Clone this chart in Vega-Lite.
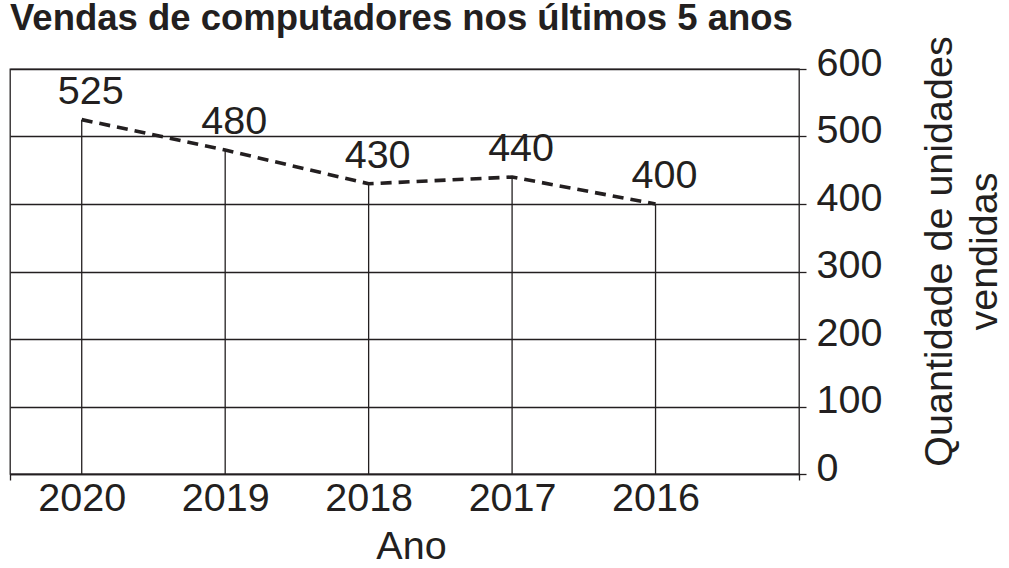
{
  "$schema": "https://vega.github.io/schema/vega-lite/v6.json",
  "autosize": {"type": "none"},
  "width": 789,
  "height": 405,
  "padding": {"left": 10, "top": 69, "right": 210, "bottom": 94},
  "background": "white",
  "title": {
    "text": "Vendas de computadores nos últimos 5 anos",
    "anchor": "start",
    "frame": "group",
    "font": "Liberation Sans",
    "fontSize": 36.5,
    "fontWeight": "bold",
    "color": "#231f20",
    "baseline": "alphabetic",
    "offset": 0,
    "dy": 31
  },
  "data": {
    "values": [
      {"ano": 2020, "vendas": 525},
      {"ano": 2019, "vendas": 480},
      {"ano": 2018, "vendas": 430},
      {"ano": 2017, "vendas": 440},
      {"ano": 2016, "vendas": 400}
    ]
  },
  "encoding": {
    "x": {
      "field": "ano",
      "type": "quantitative",
      "scale": {"domain": [2015, 2020.5], "reverse": true, "nice": false, "zero": false},
      "axis": {
        "orient": "bottom",
        "title": "Ano",
        "values": [2015, 2016, 2017, 2018, 2019, 2020, 2020.5],
        "format": ".0f",
        "grid": false,
        "domainColor": "#231f20",
        "domainWidth": 1.3,
        "tickColor": "#231f20",
        "tickWidth": 1.3,
        "tickSize": 6,
        "tickOpacity": {"condition": {"test": "datum.value == 2015 || datum.value == 2020.5", "value": 1}, "value": 0},
        "labelOpacity": {"condition": {"test": "datum.value == 2015 || datum.value == 2020.5", "value": 0}, "value": 1},
        "labelFont": "Liberation Sans",
        "labelFontSize": 39.5,
        "labelColor": "#231f20",
        "labelPadding": -1,
        "labelFlush": false,
        "labelOverlap": false,
        "labelBound": false,
        "titleFont": "Liberation Sans",
        "titleFontSize": 39.5,
        "titleFontWeight": "normal",
        "titleColor": "#231f20",
        "titleBaseline": "alphabetic",
        "titleAnchor": "middle",
        "titleX": 401,
        "titleY": 84
      }
    },
    "y": {
      "field": "vendas",
      "type": "quantitative",
      "scale": {"domain": [0, 600], "nice": false},
      "axis": {
        "orient": "right",
        "title": ["Quantidade de unidades", "vendidas"],
        "values": [0, 100, 200, 300, 400, 500, 600],
        "grid": true,
        "gridColor": "#231f20",
        "gridWidth": 1.3,
        "gridOpacity": 1,
        "domain": false,
        "tickColor": "#231f20",
        "tickWidth": 1.3,
        "tickSize": 7,
        "labelFont": "Liberation Sans",
        "labelFontSize": 39.5,
        "labelColor": "#231f20",
        "labelPadding": 10,
        "labelBaseline": "middle",
        "labelOffset": -6,
        "labelFlush": false,
        "labelOverlap": false,
        "titleFont": "Liberation Sans",
        "titleFontSize": 39.5,
        "titleFontWeight": "normal",
        "titleColor": "#231f20",
        "titleAngle": -90,
        "titleAlign": "center",
        "titleBaseline": "alphabetic",
        "titleLineHeight": 45,
        "titleX": 152,
        "titleY": 182
      }
    }
  },
  "layer": [
    {
      "mark": {"type": "rule", "color": "#231f20", "strokeWidth": 1.3},
      "encoding": {
        "y2": {"datum": 0}
      }
    },
    {
      "mark": {"type": "line", "color": "#231f20", "strokeWidth": 3.6, "strokeDash": [11, 7]},
      "encoding": {}
    },
    {
      "mark": {
        "type": "text",
        "font": "Liberation Sans",
        "fontSize": 39.5,
        "color": "#231f20",
        "align": "center",
        "baseline": "alphabetic",
        "dx": 9,
        "dy": -16
      },
      "encoding": {
        "text": {"field": "vendas", "type": "quantitative"}
      }
    }
  ],
  "config": {
    "view": {"stroke": "#231f20", "strokeWidth": 1.3},
    "axis": {"labelOverlap": false}
  }
}
